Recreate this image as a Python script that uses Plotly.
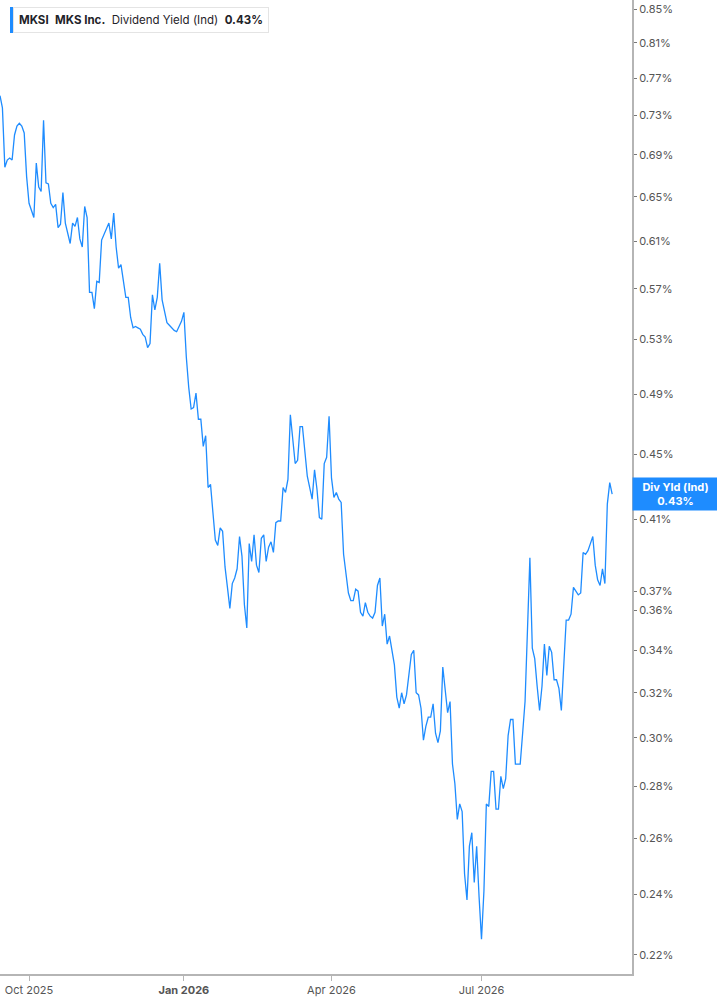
import numpy as np
import pandas as pd
import plotly.graph_objects as go
from pandas.tseries.offsets import CustomBusinessDay

# labels
ticker = "MKSI"
company = "MKS Inc."
metric = "Dividend Yield (Ind)"
short_metric = "Div Yld (Ind)"
current_yield = 0.43

# market closed days inside the window
market_holidays = ["2025-11-27", "2025-12-25", "2026-01-01", "2026-01-19", "2026-02-16",
                   "2026-04-03", "2026-05-25", "2026-06-19", "2026-07-03", "2026-09-07"]

# daily dividend yield (%), one value per trading day, starting 2025-09-15
sep_2025 = [0.751, 0.738, 0.678, 0.685, 0.687, 0.685, 0.710, 0.719, 0.722, 0.719, 0.712, 0.669]

q4_2025 = [0.644, 0.638, 0.631, 0.682, 0.659, 0.655, 0.725, 0.663, 0.662, 0.644,
           0.640, 0.643, 0.622, 0.625, 0.654, 0.626, 0.616, 0.608, 0.626, 0.623,
           0.631, 0.612, 0.605, 0.641, 0.631, 0.567, 0.567, 0.554, 0.576, 0.575,
           0.611, 0.616, 0.622, 0.626, 0.612, 0.635, 0.605, 0.587, 0.590, 0.576,
           0.563, 0.563, 0.547, 0.539, 0.540, 0.539, 0.538, 0.534, 0.532, 0.524,
           0.527, 0.565, 0.553, 0.563, 0.591, 0.561, 0.551, 0.543, 0.541, 0.539,
           0.537, 0.536, 0.540, 0.544]

q1_2026 = [0.551, 0.517, 0.495, 0.480, 0.481, 0.491, 0.473, 0.473, 0.455, 0.462,
           0.429, 0.431, 0.414, 0.398, 0.395, 0.405, 0.403, 0.383, 0.372, 0.361,
           0.374, 0.377, 0.382, 0.400, 0.389, 0.363, 0.351, 0.396, 0.386, 0.401,
           0.384, 0.380, 0.399, 0.401, 0.386, 0.394, 0.397, 0.391, 0.408, 0.409,
           0.409, 0.429, 0.426, 0.434, 0.476, 0.457, 0.444, 0.446, 0.468, 0.468,
           0.451, 0.436, 0.429, 0.422, 0.440, 0.428, 0.411, 0.410, 0.444, 0.448,
           0.475]

q2_2026 = [0.435, 0.423, 0.426, 0.422, 0.420, 0.390, 0.378, 0.369, 0.365, 0.365,
           0.371, 0.370, 0.359, 0.357, 0.364, 0.359, 0.357, 0.356, 0.359, 0.373,
           0.377, 0.352, 0.358, 0.343, 0.347, 0.340, 0.333, 0.318, 0.313, 0.320,
           0.315, 0.319, 0.330, 0.338, 0.340, 0.320, 0.319, 0.313, 0.299, 0.305,
           0.309, 0.309, 0.315, 0.302, 0.298, 0.303, 0.332, 0.322, 0.311, 0.316,
           0.289, 0.281, 0.267, 0.273, 0.270, 0.247, 0.238, 0.257, 0.262, 0.244,
           0.257, 0.239]

q3_2026 = [0.225, 0.241, 0.273, 0.272, 0.286, 0.286, 0.271, 0.271, 0.284, 0.279,
           0.283, 0.301, 0.308, 0.308, 0.289, 0.289, 0.289, 0.302, 0.316, 0.350,
           0.388, 0.341, 0.336, 0.323, 0.312, 0.323, 0.343, 0.328, 0.342, 0.339,
           0.326, 0.326, 0.322, 0.312, 0.334, 0.355, 0.355, 0.358, 0.372, 0.370,
           0.368, 0.369, 0.391, 0.390, 0.392, 0.396, 0.400, 0.384, 0.376, 0.373,
           0.382, 0.374, 0.419, 0.432, 0.425]

# axis ticks
y_ticks = [0.22, 0.24, 0.26, 0.28, 0.30, 0.32, 0.34, 0.36, 0.37, 0.41, 0.45,
           0.49, 0.53, 0.57, 0.61, 0.65, 0.69, 0.73, 0.77, 0.81, 0.85]
x_ticks = ["2025-10-01", "2026-01-02", "2026-04-01", "2026-07-01"]
x_tick_labels = ["Oct 2025", "<b>Jan 2026</b>", "Apr 2026", "Jul 2026"]

yield_pct = sep_2025 + q4_2025 + q1_2026 + q2_2026 + q3_2026
days = pd.date_range("2025-09-15", periods=len(yield_pct),
                     freq=CustomBusinessDay(holidays=market_holidays))
day_labels = days.strftime("%Y-%m-%d").tolist()

BLUE = "#1e8cff"
AXIS = "#b5b5b5"
W, H = 717, 1005
PLOT_W, PLOT_H = 632, 974

fig = go.Figure(go.Scatter(
    x=day_labels,
    y=yield_pct,
    mode="lines",
    line=dict(color=BLUE, width=1.3),
    hovertemplate="%{x}<br>%{y:.2f}%<extra></extra>",
))

fig.update_layout(
    width=W, height=H,
    margin=dict(l=0, r=W - PLOT_W, t=0, b=H - PLOT_H),
    paper_bgcolor="white",
    plot_bgcolor="white",
    showlegend=False,
    font=dict(family="Inter, Roboto, sans-serif", size=11, color="#555"),
)

fig.update_xaxes(
    type="category",
    range=[0, 261.2],
    tickmode="array", tickvals=x_ticks, ticktext=x_tick_labels,
    showgrid=False, zeroline=False,
    showline=True, linecolor=AXIS, linewidth=2,
    ticks="outside", ticklen=5, tickcolor=AXIS, tickwidth=1,
    tickfont=dict(size=11, color="#555"),
)

fig.update_yaxes(
    type="log",
    side="right",
    range=[np.log10(0.2141), np.log10(0.861)],
    tickmode="array", tickvals=y_ticks,
    ticktext=[f"{v:.2f}%" for v in y_ticks],
    showgrid=False, zeroline=False,
    showline=True, linecolor=AXIS, linewidth=2,
    ticks="outside", ticklen=3, tickcolor="#777", tickwidth=1,
    tickfont=dict(size=11, color="#555"),
)

# legend box top left
sep = "&nbsp;&nbsp;"
fig.add_annotation(
    xref="paper", yref="paper",
    x=13 / PLOT_W, y=1 - 7 / PLOT_H,
    xanchor="left", yanchor="top",
    text=f"<b>{ticker}</b>{sep}<b>{company}</b>{sep}{metric}{sep}<b>{current_yield:.2f}%</b>",
    showarrow=False,
    font=dict(size=11.5, color="#1f2329"),
    bgcolor="white", bordercolor="#e4e4e4", borderwidth=1, borderpad=5,
)
fig.add_shape(
    type="rect", xref="paper", yref="paper",
    x0=10 / PLOT_W, x1=13.5 / PLOT_W,
    y0=1 - 33 / PLOT_H, y1=1 - 7 / PLOT_H,
    fillcolor=BLUE, line=dict(width=0),
)

# last value tag on the right axis
fig.add_annotation(
    xref="paper", yref="y",
    x=1, y=np.log10(yield_pct[-1]),
    xanchor="left", yanchor="middle",
    text=f"<b>{short_metric}</b><br><b>{current_yield:.2f}%</b>",
    showarrow=False, align="center",
    font=dict(size=11, color="white"),
    bgcolor=BLUE, borderpad=2, width=81,
)

# page body has a default 8px margin, drop it so the chart sits at the window corner
fig.write_html(
    "out.html",
    config={"displayModeBar": False},
    post_script="document.body.style.margin='0';",
)
